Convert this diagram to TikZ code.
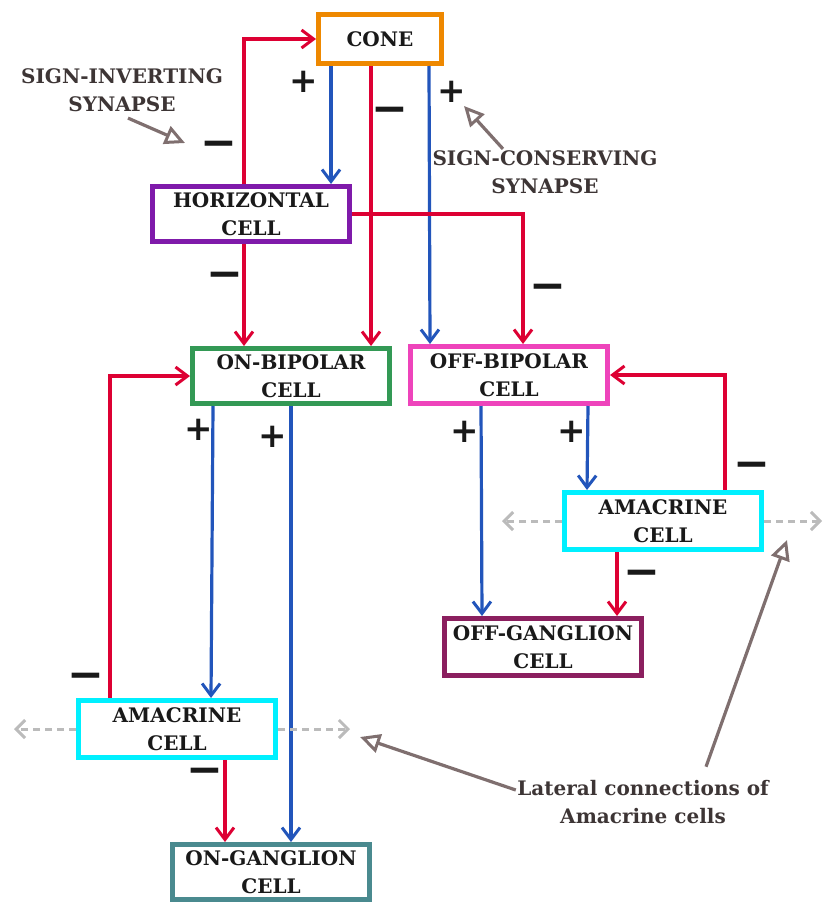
\documentclass[tikz,border=0pt]{standalone}
\usepackage{fontspec}
\setmainfont{DejaVu Serif}
\newfontfamily\signfont{DejaVu Sans}
\usetikzlibrary{arrows.meta}
\definecolor{exc}{HTML}{2255BB}
\definecolor{inh}{HTML}{DD0033}
\definecolor{conecol}{HTML}{EE8800}
\definecolor{hccol}{HTML}{7F1AAA}
\definecolor{onbcol}{HTML}{339955}
\definecolor{offbcol}{HTML}{EE44BB}
\definecolor{amcol}{HTML}{00F0FF}
\definecolor{offgcol}{HTML}{8B1F5F}
\definecolor{ongcol}{HTML}{4A8A8F}
\definecolor{notecol}{HTML}{7F6F6F}
\definecolor{notetxt}{HTML}{3D3535}
\definecolor{latcol}{HTML}{BBBBBB}

\begin{document}
\begin{tikzpicture}[x=1pt, y=-1pt,
	   cell/.style={draw, line width=5pt, fill=white, align=center, inner sep=0pt,
	     minimum width=197pt, minimum height=55pt, text=black!90,
	     font=\bfseries\fontsize{20}{28}\selectfont},
	   note/.style={align=center, text=notetxt, font=\bfseries\fontsize{20}{28}\selectfont},
	   plus/.style={text=black!90, inner sep=0pt, font=\signfont\bfseries\fontsize{34}{34}\selectfont},
	   minus/.style={text=black!90, inner sep=0pt, font=\signfont\bfseries\fontsize{44}{44}\selectfont},
	   excite/.style={draw=exc, line width=3.2pt, -{Straight Barb[length=12pt, width=18pt, line width=3pt]}},
	   inhib/.style={draw=inh, line width=3.2pt, -{Straight Barb[length=12pt, width=18pt, line width=3pt]}},
	   ptr/.style={draw=notecol, line width=3.2pt, -{Triangle[open, length=20pt, width=19pt, line width=3pt]}},
	   lat/.style={draw=latcol, line width=3pt, dash pattern=on 7pt off 5pt,
	     -{Straight Barb[length=9pt, width=18pt, line width=3pt]}}]
	  \useasboundingbox (0,0) rectangle (822,902);
	  % cells
	  \node[cell, draw=conecol, minimum width=123pt, minimum height=49pt] (cone) at (380,39) {CONE};
	  \node[cell, draw=hccol] (hc) at (251,214) {HORIZONTAL\\CELL};
	  \node[cell, draw=onbcol] (onb) at (291,376) {ON-BIPOLAR\\CELL};
	  \node[cell, draw=offbcol, minimum height=57pt] (offb) at (509,375) {OFF-BIPOLAR\\CELL};
	  \node[cell, draw=amcol, minimum height=57pt] (amr) at (663,521) {AMACRINE\\CELL};
	  \node[cell, draw=offgcol, minimum height=57pt] (offg) at (543,647) {OFF-GANGLION\\CELL};
	  \node[cell, draw=amcol, minimum height=57pt] (aml) at (177,729) {AMACRINE\\CELL};
	  \node[cell, draw=ongcol] (ong) at (271,872) {ON-GANGLION\\CELL};
	  % synapses
	  \draw[excite] (cone.south -| 331,0) -- (hc.north -| 331,0);
	  \draw[inhib] (hc.north -| 244,0) |- (cone.west);
	  \draw[inhib] (cone.south -| 371,0) -- (onb.north -| 371,0);
	  \draw[excite] (cone.south -| 429,0) -- (offb.north -| 430,0);
	  \draw[inhib] (hc.south -| 244,0) -- (onb.north -| 244,0);
	  \draw[inhib] (hc.east) -| (offb.north -| 523,0);
	  \draw[excite] (onb.south -| 213,0) -- (aml.north -| 211,0);
	  \draw[excite] (onb.south -| 291,0) -- (ong.north -| 291,0);
	  \draw[inhib] (aml.north -| 110,0) |- (onb.west);
	  \draw[inhib] (aml.south -| 225,0) -- (ong.north -| 225,0);
	  \draw[excite] (offb.south -| 481,0) -- (offg.north -| 482,0);
	  \draw[excite] (offb.south -| 588,0) -- (amr.north -| 587,0);
	  \draw[inhib] (amr.north -| 725,0) |- (offb.east);
	  \draw[inhib] (amr.south -| 617,0) -- (offg.north -| 617,0);
	  % lateral connections
	  \coordinate (rl) at (502,521);
	  \coordinate (rr) at (822,521);
	  \coordinate (ll) at (14,729);
	  \coordinate (lr) at (350,729);
	  \draw[lat] (amr.west) -- (rl);
	  \draw[lat] (amr.east) -- (rr);
	  \draw[lat] (aml.west) -- (ll);
	  \draw[lat] (aml.east) -- (lr);
	  % signs
	  \foreach \x/\y [count=\i] in {304/82, 452/92, 199/430, 273/437, 465/432, 572/432}
	    \node[plus] (p\i) at (\x,\y) {+};
	  \foreach \x/\y [count=\i] in {390/115, 219/149, 225/280, 548/292, 752/470, 642/578, 86/681, 205/776}
	    \node[minus] (m\i) at (\x,\y) {−};
	  % notes
	  \node[note] (inv) at (122,90) {SIGN-INVERTING\\SYNAPSE};
	  \node[note] (cons) at (545,172) {SIGN-CONSERVING\\SYNAPSE};
	  \node[note] (latnote) at (643,802) {Lateral connections of\\Amacrine cells};
	  \coordinate (invtip) at (185,143);
	  \coordinate (constip) at (464,106);
	  \coordinate (lattip1) at (360,737);
	  \coordinate (lattip2) at (787,540);
	  \draw[ptr] ([shift={(6,3)}]inv.south) -- (invtip);
	  \draw[ptr] ([shift={(-42,2)}]cons.north) -- (constip);
	  \draw[ptr] ([shift={(2,-12)}]latnote.west) -- (lattip1);
	  \draw[ptr] ([shift={(63,-10)}]latnote.north) -- (lattip2);
	\end{tikzpicture}
\end{document}
